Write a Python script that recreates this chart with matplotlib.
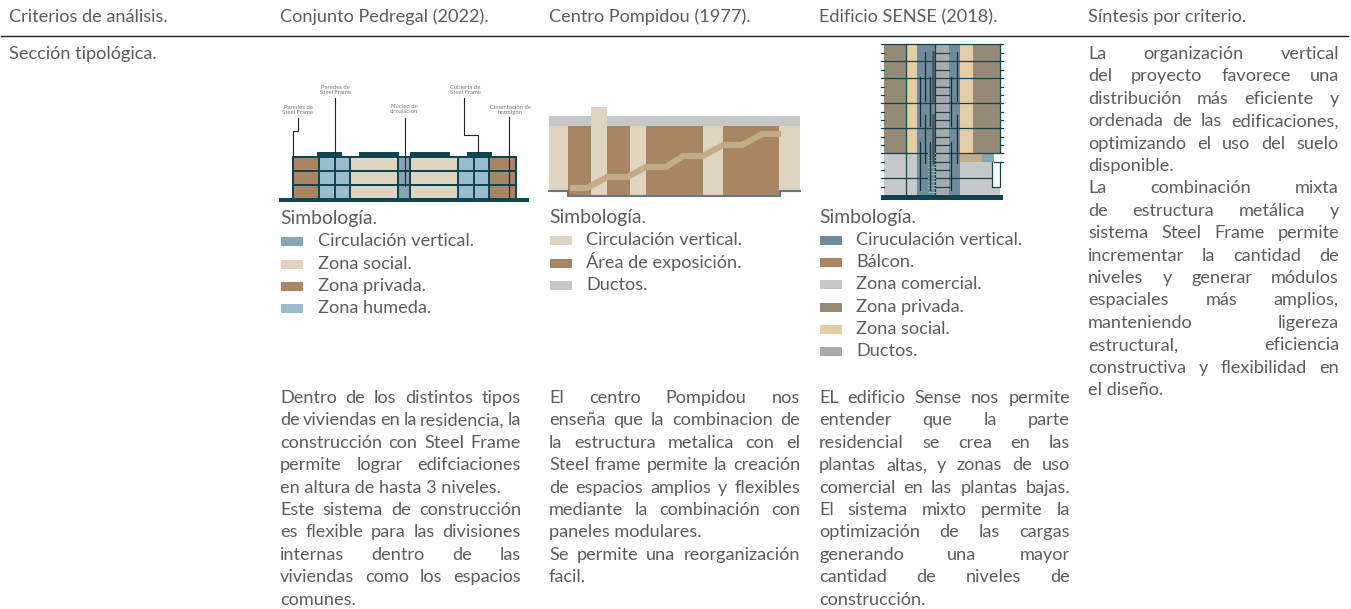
import matplotlib
matplotlib.use('Agg')
import matplotlib.pyplot as plt
from matplotlib.patches import Rectangle

plt.rcParams['font.family'] = ['Lato', 'DejaVu Sans']

TXT = '#5c5c5c'
TEAL = '#0f4450'
FS = 13.1

headers = ['Criterios de análisis.', 'Conjunto Pedregal (2022).', 'Centro Pompidou (1977).',
           'Edificio SENSE (2018).', 'Síntesis por criterio.']
col_x = [9, 280, 549, 819, 1088]
row_label = 'Sección tipológica.'

legend_title = 'Simbología.'
legend_pedregal = [('Circulación vertical.', '#86a4b2'), ('Zona social.', '#dfd4bf'),
                   ('Zona privada.', '#a88664'), ('Zona humeda.', '#9bbccd')]
legend_pompidou = [('Circulación vertical.', '#dfd4bf'), ('Área de exposición.', '#a88664'),
                   ('Ductos.', '#c6c7c9')]
legend_sense = [('Ciruculación vertical.', '#6f8c9c'), ('Bálcon.', '#a88664'),
                ('Zona comercial.', '#c6c7c9'), ('Zona privada.', '#948a75'),
                ('Zona social.', '#e5cda5'), ('Ductos.', '#a9aaae')]

# (text, justified)
text_pedregal = [('Dentro de los distintos tipos', 1), ('de viviendas en la residencia, la', 1),
                 ('construcción con Steel Frame', 1), ('permite lograr edifciaciones', 1),
                 ('en altura de hasta 3 niveles.', 0), ('Este sistema de construcción', 1),
                 ('es flexible para las divisiones', 1), ('internas dentro de las', 1),
                 ('viviendas como los espacios', 1), ('comunes.', 0)]
text_pompidou = [('El centro Pompidou nos', 1), ('enseña que la combinacion de', 1),
                 ('la estructura metalica con el', 1), ('Steel frame permite la creación', 1),
                 ('de espacios amplios y flexibles', 1), ('mediante la combinación con', 1),
                 ('paneles modulares.', 0), ('Se permite una reorganización', 1), ('facil.', 0)]
text_sense = [('EL edificio Sense nos permite', 1), ('entender que la parte', 1),
              ('residencial se crea en las', 1), ('plantas altas, y zonas de uso', 1),
              ('comercial en las plantas bajas.', 1), ('El sistema mixto permite la', 1),
              ('optimización de las cargas', 1), ('generando una mayor', 1),
              ('cantidad de niveles de', 1), ('construcción.', 0)]
text_sintesis = [('La organización vertical', 1), ('del proyecto favorece una', 1),
                 ('distribución más eficiente y', 1), ('ordenada de las edificaciones,', 1),
                 ('optimizando el uso del suelo', 1), ('disponible.', 0),
                 ('La combinación mixta', 1), ('de estructura metálica y', 1),
                 ('sistema Steel Frame permite', 1), ('incrementar la cantidad de', 1),
                 ('niveles y generar módulos', 1), ('espaciales más amplios,', 1),
                 ('manteniendo ligereza', 1), ('estructural, eficiencia', 1),
                 ('constructiva y flexibilidad en', 1), ('el diseño.', 0)]

# Pedregal section
ped_cols = [(294, 318, '#a88664'), (320, 334, '#9bbccd'), (336, 349, '#9bbccd'), (351, 397, '#dfd4bf'),
            (399, 409, '#86a4b2'), (411, 457, '#dfd4bf'), (459, 473, '#9bbccd'), (475, 488, '#9bbccd'),
            (490, 515, '#a88664')]
ped_floors = [(158, 170), (172, 184), (186, 198)]
ped_roofs = [(317, 342), (359, 399), (410, 450), (467, 492)]
ped_notes = [('Paredes de\nSteel Frame', 298, 110), ('Paredes de\nSteel Frame', 335, 90),
             ('Núcleo de\ncirculación', 404, 109), ('Cubierta de\nSteel Frame', 465, 90),
             ('Cimentación de\nhormigón', 510, 110)]
ped_leaders = [([292.5, 292.5, 298, 298], [158, 130.5, 130.5, 118]), ([335, 335], [98, 158]),
               ([404.5, 404.5], [118, 186]), ([464, 464, 478, 478], [98, 135, 135, 153]),
               ([509, 509], [117, 198])]

# Pompidou section
pom_blocks = [(549, 116, 800, 126, '#c6c7c9'), (549, 126, 568, 190, '#dfd4bf'), (568, 126, 779, 195, '#a88664'),
              (779, 126, 800, 190, '#dfd4bf'), (591, 107, 607, 195, '#dfd4bf'), (630, 126, 646, 195, '#dfd4bf'),
              (703, 126, 723, 195, '#dfd4bf')]
pom_ramp_x = [570, 587, 607, 627, 646, 666, 683, 703, 723, 742, 762, 781]
pom_ramp_y = [188, 188, 177, 177, 167, 167, 156, 156, 145, 145, 134, 134]
pom_base_x = [549, 568, 568, 780, 780, 800]
pom_base_y = [191, 191, 196, 196, 191, 191]

# SENSE section
sen_blocks = [(884, 44, 906, 153, '#948a75'), (907, 44, 917, 153, '#e5cda5'), (917, 44, 935, 195, '#6f8c9c'),
              (935, 44, 949, 195, '#a9aaae'), (949, 44, 960, 195, '#6f8c9c'), (960, 44, 973, 153, '#e5cda5'),
              (973, 44, 1000, 153, '#948a75'), (884, 153, 917, 195, '#c6c7c9'), (960, 162, 992, 195, '#c6c7c9'),
              (992, 187, 1000, 195, '#c6c7c9'), (960, 153, 982, 162, '#c4ab88'), (982, 153, 994, 162, '#86a4b2')]
sen_floors = [44, 61, 78, 103, 128, 153, 178]
sen_ticks = [53, 70, 87, 95, 112, 120, 137, 145, 162, 170, 187]
sen_verts_x = [919.7, 925.3, 930.3, 951.3, 957.3]
sen_verts_top = [77, 52, 77, 77, 52]
sen_verts_bottom = [126, 101, 126, 126, 101]
sen_verts2_top = [142, 115, 142, 142, 115]
sen_verts2_bottom = [190, 163, 190, 190, 163]
sen_stairs = [153, 157, 160, 164, 167, 171, 174, 178, 181, 185, 188, 192]

fig = plt.figure(figsize=(13.51, 6.09), dpi=100)
ax = fig.add_axes([0, 0, 1, 1])
ax.set_xlim(0, 1351)
ax.set_ylim(609, 0)
ax.axis('off')
renderer = fig.canvas.get_renderer()


def box(x0, y0, x1, y1, c, z=2):
    ax.add_patch(Rectangle((x0, y0), x1 - x0, y1 - y0, facecolor=c, edgecolor='none', zorder=z))


def put(x, y, s, **kw):
    return ax.text(x, y, s, fontsize=kw.pop('fs', FS), color=kw.pop('c', TXT), va='baseline', **kw)


def para(lines, x0, x1, y0, step=22.4):
    for i, (s, just) in enumerate(lines):
        y = y0 + i * step
        if not just:
            put(x0, y, s)
            continue
        words = s.split()
        arts = [put(x0, y, w) for w in words]
        w = [a.get_window_extent(renderer).width for a in arts]
        gap = (x1 - x0 - sum(w)) / (len(words) - 1)
        x = x0
        for a, ww in zip(arts, w):
            a.set_x(x)
            x += ww + gap


def legend(items, x, y0):
    put(x, y0, legend_title, fs=FS + 0.8)
    for i, (s, c) in enumerate(items):
        y = y0 + 22.3 * (i + 1)
        box(x + 1, y - 9, x + 23, y, c)
        put(x + 37.5, y, s)


for x, s in zip(col_x, headers):
    put(x, 22, s)
ax.plot([1, 1348], [35.5, 35.5], color='#222222', lw=1)
put(col_x[0], 59, row_label)

# Pedregal
box(279, 198, 529, 202, TEAL)
box(292, 156, 517, 198, TEAL)
for a, b in ped_roofs:
    box(a, 152, b, 156, TEAL)
for a, b, c in ped_cols:
    for top, bottom in ped_floors:
        box(a, top, b, bottom, c, 3)
for (s, x, y) in ped_notes:
    ax.text(x, y, s, fontsize=4.3, color='#777777', ha='center', va='center', linespacing=1.2)
for lx, ly in ped_leaders:
    ax.plot(lx, ly, color='#222222', lw=0.8, zorder=4)

# Pompidou
for a, t, b, u, c in pom_blocks:
    box(a, t, b, u, c)
ax.plot(pom_ramp_x, pom_ramp_y, color='#c2ab88', lw=4.4, solid_joinstyle='miter', solid_capstyle='butt', zorder=3)
ax.plot(pom_base_x, pom_base_y, color='#6b7780', lw=1.5, solid_joinstyle='miter', zorder=4)

# SENSE
for a, t, b, u, c in sen_blocks:
    box(a, t, b, u, c)
box(881, 195, 1003, 200, TEAL)
for y in sen_floors:
    x1 = 992 if y == 178 else 1003
    ax.plot([881, x1], [y, y], color=TEAL, lw=0.9, zorder=4)
for y in sen_ticks:
    ax.plot([881, 884], [y, y], color=TEAL, lw=0.9, zorder=4)
    ax.plot([935, 949], [y, y], color=TEAL, lw=0.9, zorder=4)
    if y < 160:
        ax.plot([1000, 1003], [y, y], color=TEAL, lw=0.9, zorder=4)
for x in [906, 935]:
    ax.plot([x, x], [44, 195], color=TEAL, lw=0.9, zorder=4)
ax.plot([1000, 1000], [44, 153], color=TEAL, lw=0.9, zorder=4)
ax.plot([992, 992, 1000, 1000], [162, 186.5, 186.5, 162], color=TEAL, lw=0.9, zorder=4)
ax.plot([994, 1003], [162, 162], color=TEAL, lw=0.9, zorder=4)
for y in sen_stairs:
    ax.plot([928, 935], [y, y], color='#8fb5bd', lw=0.7, zorder=4)
for x, a, b, a2, b2 in zip(sen_verts_x, sen_verts_top, sen_verts_bottom, sen_verts2_top, sen_verts2_bottom):
    ax.plot([x, x], [a, b], color='#1d2a30', lw=0.9, zorder=5)
    ax.plot([x, x], [a2, b2], color='#1d2a30', lw=0.9, zorder=5)
for a, b in [(52, 101), (115, 163)]:
    ax.plot([933, 933], [a, b], color='#45525a', lw=1.8, zorder=5)

legend(legend_pedregal, col_x[1], 224)
legend(legend_pompidou, col_x[2], 223)
legend(legend_sense, col_x[3], 222.5)

para(text_pedregal, col_x[1], 521, 403)
para(text_pompidou, col_x[2], 800, 403)
para(text_sense, col_x[3], 1070, 403)
para(text_sintesis, col_x[4], 1339, 59)

fig.savefig('out.png', dpi=100)
